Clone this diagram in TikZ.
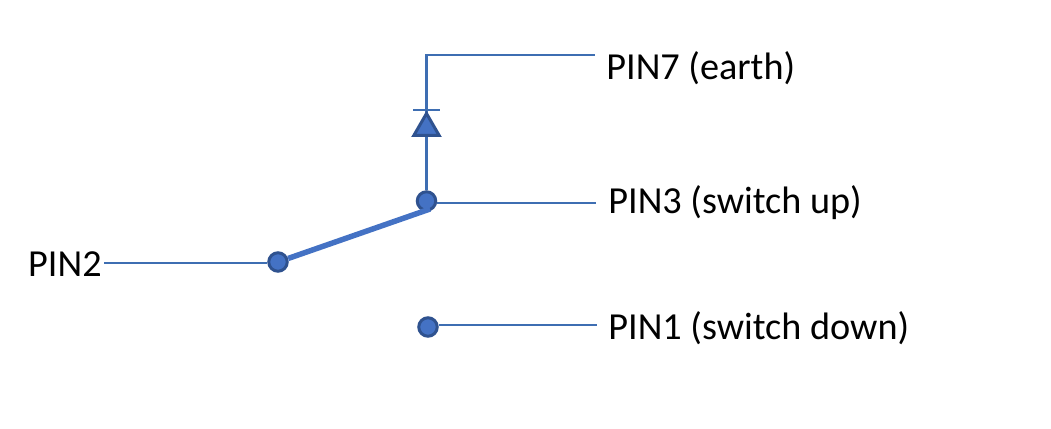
\documentclass[tikz,border=0pt]{standalone}
\usepackage{fontspec}
\setmainfont{Carlito}
\usetikzlibrary{shapes.geometric, positioning}
\definecolor{wireblue}{RGB}{68, 114, 196}
\definecolor{leadblue}{RGB}{62, 110, 178}
\definecolor{rimblue}{RGB}{47, 82, 143}
\tikzset{
  wire/.style={draw=leadblue, line width=0.045cm},
  contact/.style={circle, draw=rimblue, fill=wireblue, line width=0.06cm, minimum size=0.37cm, inner sep=0pt},
  pinlabel/.style={font=\fontsize{21.75pt}{26pt}\selectfont, text=black, inner sep=0pt},
}
\begin{document}
\begin{tikzpicture}
\useasboundingbox (0,0) rectangle (21.02,8.58);

% Labels
\node[pinlabel, anchor=base west] (pin7) at (12.12,6.98) {PIN7 (earth)};
\node[pinlabel, anchor=base west] (pin3) at (12.16,4.30) {PIN3 (switch up)};
\node[pinlabel, anchor=base west] (pin1) at (12.16,1.78) {PIN1 (switch down)};
\node[pinlabel, anchor=base east] (pin2) at (2.04,3.05) {PIN2};

% Contacts
\node[contact] (up) at (8.53,4.56) {};
\node[contact] (common) at (5.56,3.34) {};
\node[contact] (down) at (8.56,2.04) {};

% Free ends of the wires
\coordinate (end7) at (11.90,7.48);
\coordinate (corner7) at (8.53,7.48);
\coordinate (end3) at (11.92,4.52);
\coordinate (end1) at (11.94,2.08);
\coordinate (end2) at (2.08,3.32);
\coordinate (barleft) at (8.26,6.38);
\coordinate (barright) at (8.80,6.38);
\coordinate (leverend) at (8.60,4.40);

% Wires
\draw[wire] (up.north) -- (corner7) -- (end7);
\draw[wire] (barleft) -- (barright);
\draw[wire] (up.east |- end3) -- (end3);
\draw[wire] (end2) -- (common.west |- end2);
\draw[wire] (down.east |- end1) -- (end1);

% Diode
\node[isosceles triangle, isosceles triangle apex angle=60, shape border rotate=90, draw=rimblue, fill=wireblue, line width=0.06cm, minimum height=0.44cm, inner sep=0pt, anchor=lower side] (diode) at (8.53,5.84) {};

% Lever
\draw[draw=wireblue, line width=0.11cm] (common) -- (leverend);
\end{tikzpicture}
\end{document}
